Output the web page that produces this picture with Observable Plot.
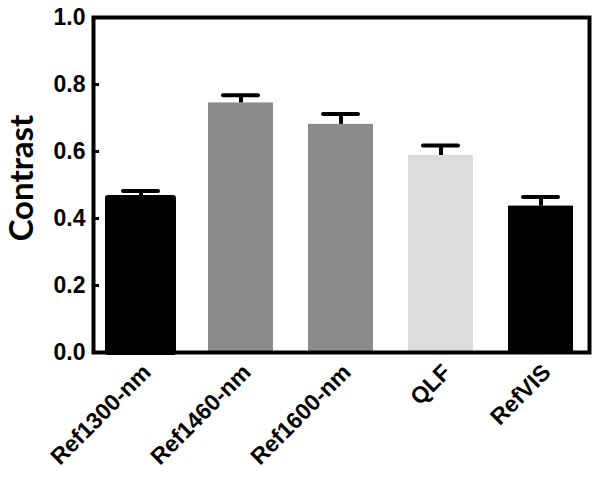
<!DOCTYPE html>
<html><head><meta charset="utf-8">
<script src="https://cdn.jsdelivr.net/npm/d3@7"></script>
<script src="https://cdn.jsdelivr.net/npm/@observablehq/plot@0.6"></script>
<style>
body{margin:0;background:#fff;}
svg{font-family:"Liberation Sans",Arial,sans-serif;font-weight:bold;}
</style></head>
<body><div id="chart"></div>
<script>
const categories = ["Ref1300-nm", "Ref1460-nm", "Ref1600-nm", "QLF", "RefVIS"];
const values = [0.46, 0.745, 0.681, 0.588, 0.437];
const errors = [0.022, 0.023, 0.031, 0.030, 0.027];
const colors = ["#000000", "#8c8c8c", "#8c8c8c", "#dcdcdc", "#000000"];
const yTicks = [0, 0.2, 0.4, 0.6, 0.8, 1.0];

const data = categories.map((c, i) => ({name: c, value: values[i], err: errors[i], color: colors[i]}));

const W = 602, H = 481, mL = 93, mR = 13;
const chart = Plot.plot({
  width: W, height: H,
  marginLeft: mL, marginRight: mR, marginTop: 17, marginBottom: 129,
  style: {background: "#fff", color: "#000"},
  x: {domain: categories, paddingInner: 0.35, paddingOuter: 0.15},
  y: {domain: [0, 1]},
  marks: [
    Plot.barY(data, {x: "name", y: "value", fill: "color", stroke: "color",
      strokeWidth: d => d.name === "Ref1300-nm" ? 6 : 0, strokeLinejoin: "round"}),
    Plot.ruleX(data, {x: "name", y1: "value", y2: d => d.value + d.err, stroke: "#000", strokeWidth: 4}),
    Plot.tickY(data, {x: "name", y: d => d.value + d.err, stroke: "#000", strokeWidth: 4, strokeLinecap: "round", insetLeft: 15, insetRight: 15}),
    Plot.tickY(yTicks, {y: d => d, stroke: "#000", strokeWidth: 3, insetRight: W - mL - mR - 6}),
    Plot.frame({stroke: "#000", strokeWidth: 4}),
    Plot.axisY({ticks: yTicks, tickFormat: d3.format(".1f"), tickSize: 0, tickPadding: 8, fontSize: 23, label: null}),
    Plot.axisX({tickSize: 0, tickRotate: -45, tickPadding: 12, dx: 6, dy: 4, fontSize: 23, label: null}),
    Plot.text(["Contrast"], {frameAnchor: "left", text: d => d, rotate: -90, textAnchor: "middle", dx: -71, dy: -7,
      fontSize: 33, fontWeight: "bold", fontFamily: "Lato, 'Liberation Sans', sans-serif"})
  ]
});
document.getElementById("chart").append(chart);
</script>
</body></html>
